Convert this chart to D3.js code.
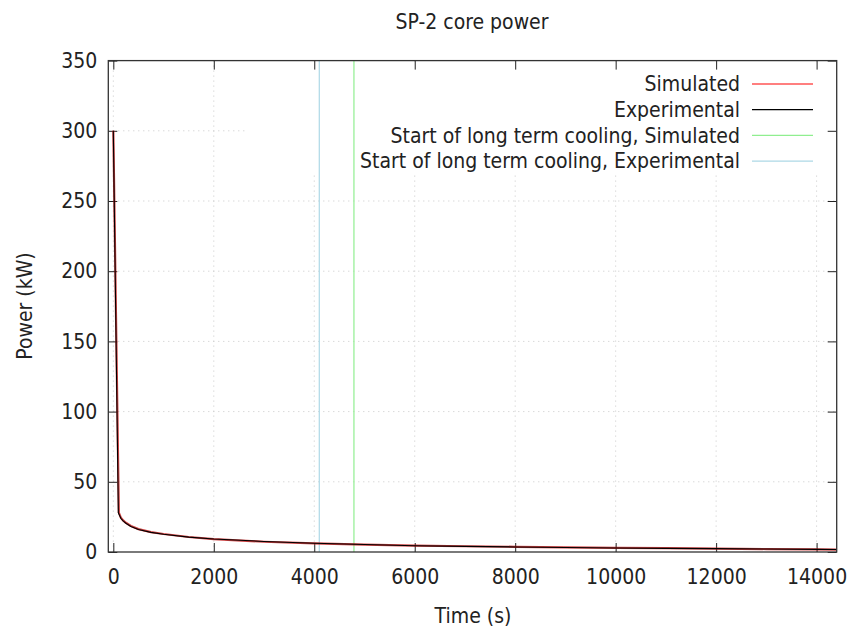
<!DOCTYPE html>
<html><head><meta charset="utf-8">
<script src="https://cdn.jsdelivr.net/npm/d3@7"></script>
<style>
body{margin:0;background:#fff;}
text{font-family:"DejaVu Sans Condensed","DejaVu Sans",sans-serif;font-stretch:condensed;fill:#222;}
</style></head>
<body><svg id="c" width="854" height="630"></svg>
<script>
const title = "SP-2 core power";
const xLabel = "Time (s)";
const yLabel = "Power (kW)";
const xTicks = [0,2000,4000,6000,8000,10000,12000,14000];
const yTicks = [0,50,100,150,200,250,300,350];
const simTime = [0,110,150,200,250,350,500,750,1000,1500,2000,3000,4000,5000,6000,7000,8000,9000,10000,11000,12000,13000,14000,14400];
const simPower = [300,28,24.5,22.3,20.8,18.5,16.3,14.2,12.8,10.7,9.2,7.3,6.1,5.3,4.6,4.1,3.7,3.3,3.0,2.7,2.4,2.1,1.8,1.7];
const expTime = [0,100,150,200,250,350,500,750,1000,1500,2000,3000,4000,5000,6000,7000,8000,9000,10000,11000,12000,13000,14000,14400];
const expPower = [300,28,24,22,20.5,18.2,16,14,12.6,10.6,9.3,7.5,6.2,5.3,4.5,4.0,3.6,3.2,2.8,2.6,2.4,2.1,1.9,1.8];
const coolingStartSim = 4790;
const coolingStartExp = 4100;
const legendLabels = ["Simulated","Experimental","Start of long term cooling, Simulated","Start of long term cooling, Experimental"];
const colors = ["#ff0000","#000000","#90ee90","#add8e6"];

const svg = d3.select("#c");
const L=108.3, R=836.7, T=60.6, B=552;
const FS = "21px";
const x = d3.scaleLinear().domain([-100,14400]).range([L,R]);
const y = d3.scaleLinear().domain([0,350]).range([B,T]);

// grid
const g = svg.append("g");
g.selectAll(".gx").data(xTicks).enter().append("line")
  .attr("x1",d=>x(d)).attr("x2",d=>x(d)).attr("y1",T).attr("y2",B)
  .attr("stroke","#c8c8c8").attr("stroke-width",1).attr("stroke-dasharray","1,4");
g.selectAll(".gy").data(yTicks.slice(1,-1)).enter().append("line")
  .attr("x1",L).attr("x2",R).attr("y1",d=>y(d)).attr("y2",d=>y(d))
  .attr("stroke","#c8c8c8").attr("stroke-width",1).attr("stroke-dasharray","1,4");

// opaque key box
svg.append("rect").attr("x",248).attr("y",T+1).attr("width",R-248-1).attr("height",174-T)
  .attr("fill","#fff");

// axes ticks (inward, mirrored)
const tk = 9;
const axB = d3.axisBottom(x).tickValues(xTicks).tickSize(-tk).tickPadding(17).tickFormat(d3.format("d"));
const axT = d3.axisTop(x).tickValues(xTicks).tickSize(-tk).tickFormat("");
const axL = d3.axisLeft(y).tickValues(yTicks).tickSize(-tk).tickPadding(11).tickFormat(d3.format("d"));
const axR = d3.axisRight(y).tickValues(yTicks).tickSize(-tk).tickFormat("");
function style(sel){sel.select(".domain").remove();sel.selectAll("line").attr("stroke","#222");
  sel.selectAll("text").style("font-size",FS).attr("fill","#222");}
svg.append("g").attr("transform",`translate(0,${B})`).call(axB).call(style);
svg.append("g").attr("transform",`translate(0,${T})`).call(axT).call(style);
svg.append("g").attr("transform",`translate(${L},0)`).call(axL).call(style);
svg.append("g").attr("transform",`translate(${R},0)`).call(axR).call(style);

// data
const line = d3.line().x(d=>x(d[0])).y(d=>y(d[1]));
const sim = simTime.map((t,i)=>[t,simPower[i]]);
const exp = expTime.map((t,i)=>[t,expPower[i]]);
svg.append("clipPath").attr("id","cp").append("rect").attr("x",L).attr("y",T).attr("width",R-L).attr("height",B-T);
const dg = svg.append("g").attr("clip-path","url(#cp)");
dg.append("line").attr("x1",x(coolingStartExp)).attr("x2",x(coolingStartExp)).attr("y1",T).attr("y2",B)
  .attr("stroke",colors[3]).attr("stroke-width",1.2);
dg.append("line").attr("x1",x(coolingStartSim)).attr("x2",x(coolingStartSim)).attr("y1",T).attr("y2",B)
  .attr("stroke",colors[2]).attr("stroke-width",1.2);
dg.append("path").datum(sim).attr("d",line).attr("fill","none").attr("stroke","#c01010").attr("stroke-width",2.2).attr("opacity",0.8).attr("stroke-linejoin","round");
dg.append("path").datum(exp).attr("d",line).attr("fill","none").attr("stroke","#000").attr("stroke-width",1.1).attr("stroke-linejoin","round");

// frame
svg.append("rect").attr("x",L).attr("y",T).attr("width",R-L).attr("height",B-T)
  .attr("fill","none").attr("stroke","#333").attr("stroke-width",1.3);

// legend
const lg = svg.append("g");
legendLabels.forEach((lab,i)=>{
  const yy = 84 + i*25.7;
  lg.append("text").attr("x",740).attr("y",yy).attr("text-anchor","end").attr("dy","0.35em")
    .style("font-size",FS).text(lab);
  lg.append("line").attr("x1",752).attr("x2",813).attr("y1",yy).attr("y2",yy)
    .attr("stroke",colors[i]).attr("stroke-width",1.2);
});

// titles
svg.append("text").attr("x",472).attr("y",29).attr("text-anchor","middle").style("font-size",FS).text(title);
svg.append("text").attr("x",473).attr("y",623).attr("text-anchor","middle").style("font-size",FS).text(xLabel);
svg.append("text").attr("transform",`translate(32,306) rotate(-90)`).attr("text-anchor","middle").style("font-size",FS).text(yLabel);
</script></body></html>
